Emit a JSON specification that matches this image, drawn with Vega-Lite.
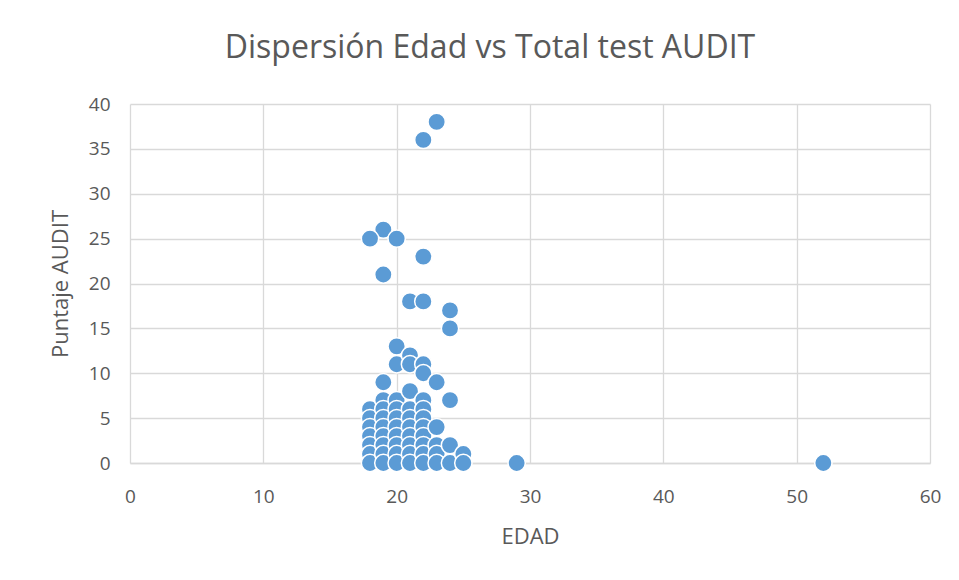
{
  "$schema": "https://vega.github.io/schema/vega-lite/v6.json",
  "width": 800,
  "height": 359,
  "autosize": "none",
  "padding": {"left": 130, "top": 104, "right": 29, "bottom": 117},
  "background": "white",
  "title": {
    "text": "Dispersión Edad vs Total test AUDIT",
    "font": "Open Sans",
    "fontSize": 32,
    "fontWeight": "normal",
    "color": "#595959",
    "anchor": "middle",
    "frame": "group",
    "dx": -40,
    "offset": 30
  },
  "data": {
    "values": [
      {"edad": 23, "audit": 38}, {"edad": 22, "audit": 36},
      {"edad": 19, "audit": 26}, {"edad": 18, "audit": 25}, {"edad": 20, "audit": 25},
      {"edad": 22, "audit": 23}, {"edad": 19, "audit": 21},
      {"edad": 21, "audit": 18}, {"edad": 22, "audit": 18},
      {"edad": 24, "audit": 17}, {"edad": 24, "audit": 15},
      {"edad": 18, "audit": 6}, {"edad": 18, "audit": 5}, {"edad": 18, "audit": 4}, {"edad": 18, "audit": 3}, {"edad": 18, "audit": 2}, {"edad": 18, "audit": 1}, {"edad": 18, "audit": 0},
      {"edad": 19, "audit": 9}, {"edad": 19, "audit": 7}, {"edad": 19, "audit": 6}, {"edad": 19, "audit": 5}, {"edad": 19, "audit": 4}, {"edad": 19, "audit": 3}, {"edad": 19, "audit": 2}, {"edad": 19, "audit": 1}, {"edad": 19, "audit": 0},
      {"edad": 20, "audit": 13}, {"edad": 20, "audit": 11}, {"edad": 20, "audit": 7}, {"edad": 20, "audit": 6}, {"edad": 20, "audit": 5}, {"edad": 20, "audit": 4}, {"edad": 20, "audit": 3}, {"edad": 20, "audit": 2}, {"edad": 20, "audit": 1}, {"edad": 20, "audit": 0},
      {"edad": 21, "audit": 12}, {"edad": 21, "audit": 11}, {"edad": 21, "audit": 8}, {"edad": 21, "audit": 6}, {"edad": 21, "audit": 5}, {"edad": 21, "audit": 4}, {"edad": 21, "audit": 3}, {"edad": 21, "audit": 2}, {"edad": 21, "audit": 1}, {"edad": 21, "audit": 0},
      {"edad": 22, "audit": 11}, {"edad": 22, "audit": 10}, {"edad": 22, "audit": 7}, {"edad": 22, "audit": 6}, {"edad": 22, "audit": 5}, {"edad": 22, "audit": 4}, {"edad": 22, "audit": 3}, {"edad": 22, "audit": 2}, {"edad": 22, "audit": 1}, {"edad": 22, "audit": 0},
      {"edad": 23, "audit": 9}, {"edad": 23, "audit": 4}, {"edad": 23, "audit": 2}, {"edad": 23, "audit": 1}, {"edad": 23, "audit": 0},
      {"edad": 24, "audit": 7}, {"edad": 24, "audit": 2}, {"edad": 24, "audit": 0},
      {"edad": 25, "audit": 1}, {"edad": 25, "audit": 0},
      {"edad": 29, "audit": 0}, {"edad": 52, "audit": 0}
    ]
  },
  "mark": {"type": "point", "shape": "circle", "filled": true, "size": 300, "color": "#5b9bd5", "stroke": "white", "strokeWidth": 1.5, "opacity": 1, "strokeOpacity": 1},
  "encoding": {
    "x": {
      "field": "edad", "type": "quantitative",
      "scale": {"domain": [0, 60], "nice": false, "zero": true},
      "axis": {"title": "EDAD", "values": [0, 10, 20, 30, 40, 50, 60], "labelOverlap": false}
    },
    "y": {
      "field": "audit", "type": "quantitative",
      "scale": {"domain": [0, 40], "nice": false},
      "axis": {"title": "Puntaje AUDIT", "values": [0, 5, 10, 15, 20, 25, 30, 35, 40], "domain": false, "labelOverlap": false}
    }
  },
  "config": {
    "view": {"stroke": null},
    "axis": {
      "labelFont": "Open Sans",
      "labelFontSize": 19,
      "labelColor": "#595959",
      "titleFont": "Open Sans",
      "titleFontSize": 22,
      "titleFontWeight": "normal",
      "titleColor": "#595959",
      "gridColor": "#d9d9d9",
      "gridWidth": 1.3,
      "domainColor": "#d9d9d9",
      "domainWidth": 1.3,
      "ticks": false
    },
    "axisX": {"labelPadding": 24, "titlePadding": 20, "grid": true, "labelFlush": false},
    "axisY": {"labelPadding": 20, "titlePadding": 16, "labelFlush": false}
  }
}
